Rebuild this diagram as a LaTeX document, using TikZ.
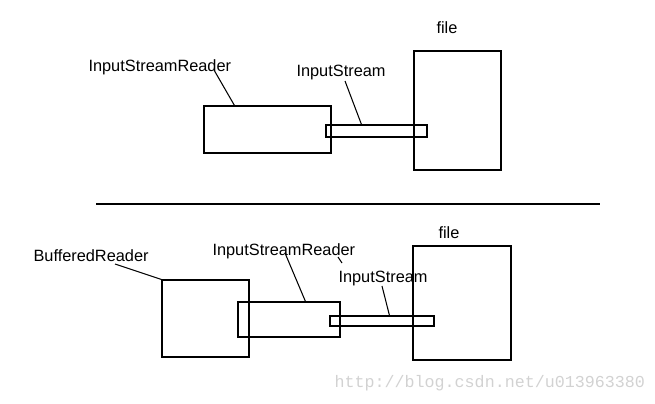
\documentclass[tikz,border=0pt]{standalone}
\usepackage{fontspec}
\newfontfamily\labelfont{Liberation Sans}
\newfontfamily\markfont{Liberation Mono}
\usetikzlibrary{fit,calc}

\tikzset{px grid/.style={
    	x=0.02cm, y=-0.02cm,
    	line width=0.6pt
  	},
  	box/.style={draw, inner sep=0pt, line width=0.6pt},
  	lbl/.style={anchor=base west, inner sep=0pt, font=\labelfont\fontsize{9.3}{11}\selectfont}
}

\begin{document}
\begin{tikzpicture}[px grid]
		\useasboundingbox (0,0) rectangle (655,403);
		% top: reader on a stream on a file
		\node [box, fit={(204,106) (331,153)}] (isrA) {};
		\node [box, fit={(414,51) (501,170)}] (fileA) {};
		\node [box, fill=white, fill opacity=0, fit={(326,125) (427,137)}] (isA) {};
		\node [lbl] (isrAlbl) at (88,71) {InputStreamReader};
		\node [lbl] (isAlbl) at (296,76) {InputStream};
		\node [lbl] (fileAlbl) at (436,33) {file};
		\draw ($(isrAlbl.base west)+(126,-1)$) -- ($(isrA.north west)+(31,0)$);
		\draw ($(isAlbl.base west)+(49,5)$) -- ($(isA.north west)+(36,0)$);
		% separator
		\draw (96,204) -- (600,204);
		% bottom: buffered reader added
		\node [box, fit={(162,280) (249,357)}] (brB) {};
		\node [box, fit={(238,302) (340,337)}] (isrB) {};
		\node [box, fit={(413,246) (511,360)}] (fileB) {};
		\node [box, fit={(330,316) (434,326)}] (isB) {};
		\node [lbl] (brBlbl) at (33,261) {BufferedReader};
		\node [lbl] (isrBlbl) at (212,255) {InputStreamReader};
		\node [lbl] (isBlbl) at (338,282) {InputStream};
		\node [lbl] (fileBlbl) at (438,238) {file};
		\draw ($(brBlbl.base west)+(82,3)$) -- (brB.north west);
		\draw ($(isrBlbl.base west)+(73,-2)$) -- ($(isrB.north west)+(68,0)$);
		\draw ($(isrBlbl.base west)+(126,2)$) -- ($(isrBlbl.base west)+(130,8)$);
		\draw ($(isBlbl.base west)+(44,4)$) -- ($(isB.north west)+(60,0)$);
		% watermark
		\node [anchor=base west, inner sep=0pt, text=gray!35, font=\markfont\fontsize{9.5}{11}\selectfont] (mark) at (334,387) {http://blog.csdn.net/u013963380};
	\end{tikzpicture}
\end{document}
